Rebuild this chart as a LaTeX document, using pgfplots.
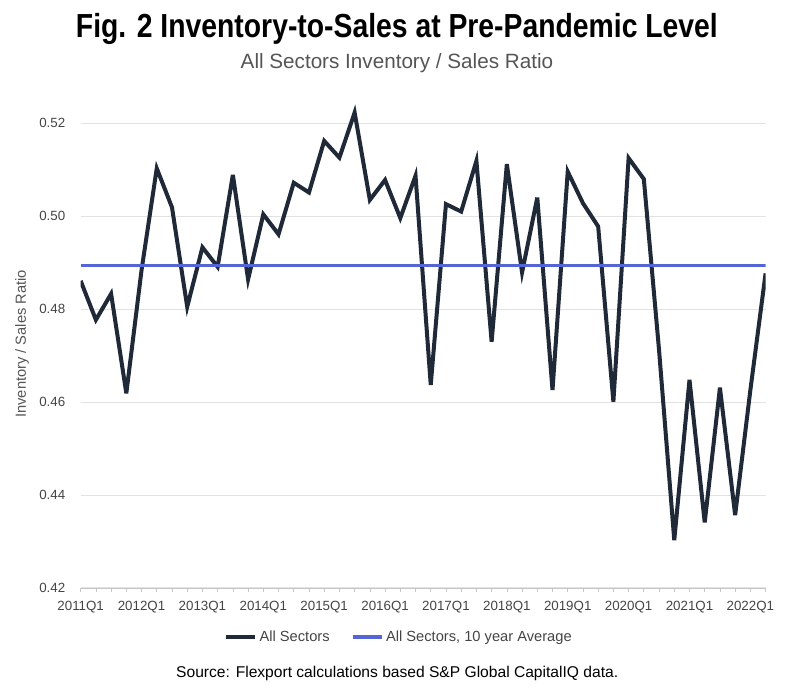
\documentclass[border=0pt]{standalone}
\usepackage{pgfplots}
\pgfplotsset{compat=1.18}
\usepackage{fontspec}
\setmainfont{Liberation Sans}
\newfontfamily\titlefont[FakeStretch=0.85]{Liberation Sans}

\definecolor{seriesdark}{HTML}{1F2937}
\definecolor{avgblue}{HTML}{5465D8}
\definecolor{gridgray}{HTML}{E2E2E2}
\definecolor{labelgray}{HTML}{555555}
\definecolor{tickgray}{HTML}{444444}

% quarterly ratio, index 0 = 2011Q1
\pgfplotstableread{
q ratio
0 0.4861
1 0.4777
2 0.4833
3 0.4619
4 0.4884
5 0.5103
6 0.5019
7 0.4805
8 0.4933
9 0.4891
10 0.5089
11 0.4864
12 0.5004
13 0.4961
14 0.5072
15 0.5051
16 0.5162
17 0.5126
18 0.5223
19 0.5035
20 0.5078
21 0.4996
22 0.5087
23 0.4637
24 0.5026
25 0.5010
26 0.5119
27 0.4730
28 0.5112
29 0.4879
30 0.5040
31 0.4626
32 0.5096
33 0.5028
34 0.4978
35 0.4601
36 0.5125
37 0.5080
38 0.4712
39 0.4303
40 0.4648
41 0.4341
42 0.4631
43 0.4357
44 0.4626
45 0.4877
}\ratiodata

\begin{document}
\begin{tikzpicture}
\useasboundingbox (-60.5pt,-76.5pt) rectangle (539.5pt,441pt);

\node[font=\titlefont\bfseries\fontsize{25}{30}\selectfont, text=black] at (237.2pt,419.5pt)
  {Fig. 2 Inventory-to-Sales at Pre-Pandemic Level};
\node[font=\fontsize{15.5}{18}\selectfont, text=labelgray] at (237.2pt,393.5pt)
  {All Sectors Inventory / Sales Ratio};
\node[font=\fontsize{11.7}{14}\selectfont, text=black] at (237.4pt,-63.75pt)
  {Source: Flexport calculations based S\&P Global CapitalIQ data.};

\begin{axis}[
  scale only axis,
  width=513.7pt, height=362.5pt,
  xmin=0, xmax=45, ymin=0.42, ymax=0.524,
  axis x line*=bottom, axis y line*=left,
  x axis line style={draw=gray!45, -},
  y axis line style={draw=none},
  ytick={0.42,0.44,...,0.53},
  ymajorgrids, grid style={gridgray, line width=0.8pt},
  ytick style={draw=none},
  xtick={0,4,...,44},
  xticklabels={2011Q1,2012Q1,2013Q1,2014Q1,2015Q1,2016Q1,2017Q1,2018Q1,2019Q1,2020Q1,2021Q1,2022Q1},
  minor xtick={0,...,45},
  tick align=outside,
  major tick length=3pt, minor tick length=3pt,
  xtick style={draw=gray!45, line width=0.5pt},
  minor tick style={draw=gray!45, line width=0.5pt},
  /pgf/number format/assume math mode=true,
  y tick label style={/pgf/number format/fixed, /pgf/number format/fixed zerofill,
                      /pgf/number format/precision=2, /tikz/xshift=-5pt},
  ticklabel style={font=\fontsize{10}{12}\selectfont, text=tickgray},
  x tick label style={/tikz/yshift=-3.5pt},
  ylabel={Inventory / Sales Ratio},
  ylabel style={at={(axis description cs:-0.0855,0.505)}, anchor=center,
                font=\fontsize{11}{13}\selectfont, text=labelgray},
  legend columns=2,
  legend style={at={(axis description cs:0.4647,-0.1014)}, anchor=center,
                draw=none, fill=none, font=\fontsize{11}{13}\selectfont, text=tickgray,
                /tikz/every even column/.append style={column sep=14pt},
                inner sep=0pt},
  legend image code/.code={\draw[#1] (0pt,0pt) -- (22pt,0pt);},
]
\addplot[seriesdark, line width=3pt, line join=miter, miter limit=6] table[x=q, y=ratio] {\ratiodata};
\addlegendentry{All Sectors}
\addplot[avgblue, line width=2.3pt] coordinates {(0,0.4893) (45,0.4893)};
\addlegendentry{All Sectors, 10 year Average}
\end{axis}
\end{tikzpicture}
\end{document}
